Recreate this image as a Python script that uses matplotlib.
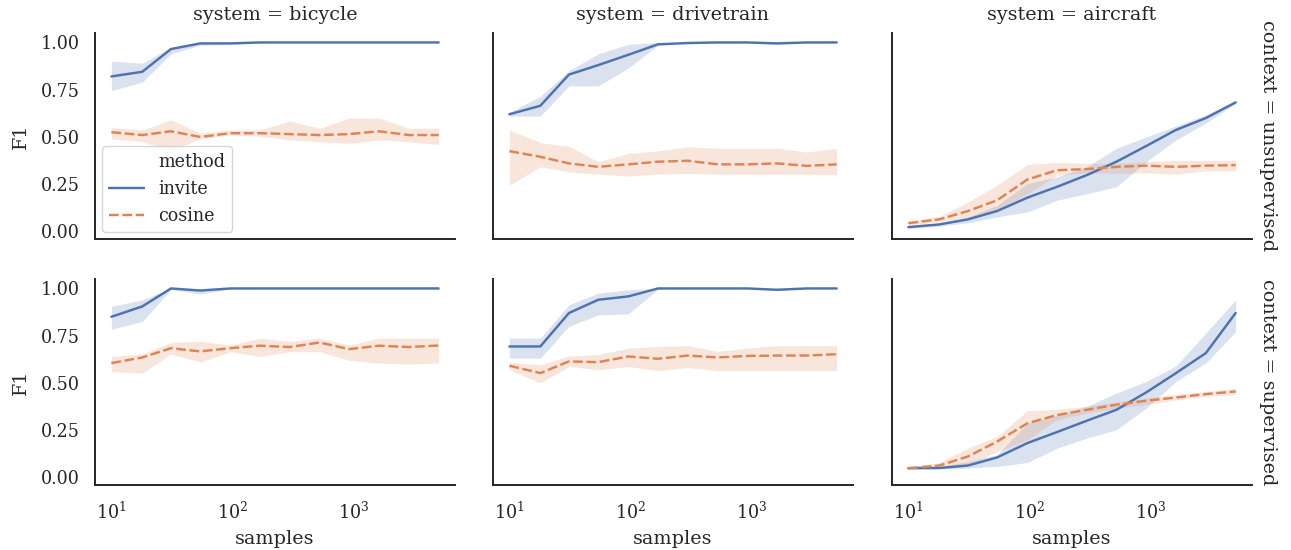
import numpy as np
import matplotlib
matplotlib.use("Agg")
import matplotlib.pyplot as plt
import matplotlib.ticker as mticker
from matplotlib.lines import Line2D
import seaborn as sns

sns.set_theme(style="white", context="notebook", font="serif", font_scale=1.15)
plt.rcParams['font.family'] = ['serif']
plt.rcParams['font.serif'] = ['DejaVu Serif']
plt.rcParams['xtick.major.pad'] = 6
plt.rcParams['ytick.major.pad'] = 5
plt.rcParams['axes.titlepad'] = 9
plt.rcParams['axes.linewidth'] = 1.4

# ---------------- data ----------------
samples = [10, 18, 31, 54, 96, 168, 296, 520, 915, 1610, 2840, 5000]
systems = ["bicycle", "drivetrain", "aircraft"]
contexts = ["unsupervised", "supervised"]
methods = ["invite", "cosine"]

# unsupervised / bicycle
uns_bic_inv = [0.82, 0.845, 0.965, 0.995, 0.995, 1.0, 1.0, 1.0, 1.0, 1.0, 1.0, 1.0]
uns_bic_inv_lo = [0.745, 0.79, 0.94, 0.985, 0.99, 1.0, 1.0, 1.0, 1.0, 1.0, 1.0, 1.0]
uns_bic_inv_hi = [0.90, 0.89, 0.975, 1.0, 1.0, 1.0, 1.0, 1.0, 1.0, 1.0, 1.0, 1.0]
uns_bic_cos = [0.525, 0.51, 0.53, 0.50, 0.52, 0.52, 0.515, 0.51, 0.515, 0.53, 0.51, 0.51]
uns_bic_cos_lo = [0.49, 0.475, 0.43, 0.49, 0.51, 0.505, 0.484, 0.475, 0.466, 0.484, 0.475, 0.46]
uns_bic_cos_hi = [0.55, 0.537, 0.59, 0.52, 0.537, 0.537, 0.585, 0.546, 0.60, 0.60, 0.546, 0.546]

# unsupervised / drivetrain
uns_drv_inv = [0.62, 0.665, 0.83, 0.88, 0.935, 0.99, 0.997, 1.0, 1.0, 0.995, 1.0, 1.0]
uns_drv_inv_lo = [0.61, 0.61, 0.77, 0.77, 0.865, 0.985, 0.995, 0.998, 0.998, 0.99, 0.998, 1.0]
uns_drv_inv_hi = [0.63, 0.715, 0.85, 0.94, 0.99, 1.0, 1.0, 1.0, 1.0, 1.0, 1.0, 1.0]
uns_drv_cos = [0.425, 0.395, 0.36, 0.342, 0.355, 0.369, 0.374, 0.355, 0.355, 0.36, 0.347, 0.355]
uns_drv_cos_lo = [0.245, 0.342, 0.315, 0.303, 0.293, 0.303, 0.307, 0.303, 0.303, 0.303, 0.303, 0.30]
uns_drv_cos_hi = [0.537, 0.47, 0.45, 0.369, 0.413, 0.426, 0.448, 0.44, 0.44, 0.44, 0.42, 0.44]

# unsupervised / aircraft
uns_air_inv = [0.023, 0.037, 0.064, 0.108, 0.179, 0.236, 0.298, 0.369, 0.452, 0.537, 0.60, 0.683]
uns_air_inv_lo = [0.015, 0.028, 0.046, 0.077, 0.103, 0.165, 0.20, 0.236, 0.369, 0.484, 0.573, 0.678]
uns_air_inv_hi = [0.031, 0.045, 0.077, 0.138, 0.254, 0.289, 0.342, 0.44, 0.50, 0.558, 0.617, 0.688]
uns_air_cos = [0.044, 0.064, 0.108, 0.165, 0.275, 0.324, 0.33, 0.342, 0.348, 0.342, 0.348, 0.351]
uns_air_cos_lo = [0.035, 0.05, 0.076, 0.112, 0.20, 0.298, 0.31, 0.307, 0.31, 0.303, 0.32, 0.32]
uns_air_cos_hi = [0.053, 0.08, 0.156, 0.245, 0.355, 0.365, 0.36, 0.36, 0.37, 0.376, 0.376, 0.376]

# supervised / bicycle
sup_bic_inv = [0.85, 0.905, 1.0, 0.989, 1.0, 1.0, 1.0, 1.0, 1.0, 1.0, 1.0, 1.0]
sup_bic_inv_lo = [0.785, 0.825, 0.995, 0.97, 0.998, 1.0, 1.0, 1.0, 1.0, 1.0, 1.0, 1.0]
sup_bic_inv_hi = [0.905, 0.94, 1.0, 0.997, 1.0, 1.0, 1.0, 1.0, 1.0, 1.0, 1.0, 1.0]
sup_bic_cos = [0.605, 0.635, 0.684, 0.667, 0.684, 0.697, 0.69, 0.714, 0.679, 0.697, 0.69, 0.698]
sup_bic_cos_lo = [0.56, 0.552, 0.654, 0.61, 0.665, 0.64, 0.665, 0.665, 0.62, 0.605, 0.60, 0.605]
sup_bic_cos_hi = [0.64, 0.654, 0.714, 0.72, 0.70, 0.737, 0.72, 0.737, 0.70, 0.737, 0.737, 0.737]

# supervised / drivetrain
sup_drv_inv = [0.693, 0.693, 0.87, 0.94, 0.958, 1.0, 1.0, 1.0, 1.0, 0.993, 1.0, 1.0]
sup_drv_inv_lo = [0.631, 0.631, 0.80, 0.86, 0.866, 0.995, 1.0, 1.0, 1.0, 0.99, 1.0, 1.0]
sup_drv_inv_hi = [0.737, 0.737, 0.914, 0.975, 0.993, 1.0, 1.0, 1.0, 1.0, 0.997, 1.0, 1.0]
sup_drv_cos = [0.591, 0.552, 0.614, 0.61, 0.64, 0.628, 0.645, 0.635, 0.643, 0.645, 0.645, 0.652]
sup_drv_cos_lo = [0.57, 0.50, 0.587, 0.57, 0.587, 0.565, 0.582, 0.565, 0.565, 0.565, 0.565, 0.565]
sup_drv_cos_hi = [0.61, 0.596, 0.643, 0.65, 0.684, 0.693, 0.697, 0.667, 0.684, 0.697, 0.697, 0.697]

# supervised / aircraft
sup_air_inv = [0.049, 0.05, 0.063, 0.106, 0.182, 0.24, 0.30, 0.358, 0.45, 0.552, 0.658, 0.87]
sup_air_inv_lo = [0.046, 0.045, 0.05, 0.058, 0.079, 0.155, 0.208, 0.252, 0.367, 0.508, 0.605, 0.772]
sup_air_inv_hi = [0.052, 0.058, 0.085, 0.12, 0.287, 0.33, 0.376, 0.446, 0.508, 0.59, 0.764, 0.94]
sup_air_cos = [0.049, 0.063, 0.111, 0.19, 0.287, 0.33, 0.358, 0.385, 0.406, 0.423, 0.441, 0.455]
sup_air_cos_lo = [0.046, 0.05, 0.067, 0.137, 0.20, 0.305, 0.34, 0.367, 0.385, 0.41, 0.43, 0.44]
sup_air_cos_hi = [0.052, 0.08, 0.155, 0.217, 0.353, 0.36, 0.376, 0.40, 0.42, 0.44, 0.455, 0.47]

panels = {
    ("unsupervised", "bicycle"): [(uns_bic_inv, uns_bic_inv_lo, uns_bic_inv_hi), (uns_bic_cos, uns_bic_cos_lo, uns_bic_cos_hi)],
    ("unsupervised", "drivetrain"): [(uns_drv_inv, uns_drv_inv_lo, uns_drv_inv_hi), (uns_drv_cos, uns_drv_cos_lo, uns_drv_cos_hi)],
    ("unsupervised", "aircraft"): [(uns_air_inv, uns_air_inv_lo, uns_air_inv_hi), (uns_air_cos, uns_air_cos_lo, uns_air_cos_hi)],
    ("supervised", "bicycle"): [(sup_bic_inv, sup_bic_inv_lo, sup_bic_inv_hi), (sup_bic_cos, sup_bic_cos_lo, sup_bic_cos_hi)],
    ("supervised", "drivetrain"): [(sup_drv_inv, sup_drv_inv_lo, sup_drv_inv_hi), (sup_drv_cos, sup_drv_cos_lo, sup_drv_cos_hi)],
    ("supervised", "aircraft"): [(sup_air_inv, sup_air_inv_lo, sup_air_inv_hi), (sup_air_cos, sup_air_cos_lo, sup_air_cos_hi)],
}

colors = ["#4C72B0", "#DD8452"]
dashes = [None, (4, 1.5)]
LW = 1.75

# ---------------- figure ----------------
W, H = 1291, 550
fig = plt.figure(figsize=(W / 100, H / 100), dpi=100)
col_left = [95, 493, 892]
ax_w = 360
row_top = [33, 279]
ax_h = 206

axes = {}
ref = None
for r, ctx in enumerate(contexts):
    for c, sysname in enumerate(systems):
        rect = [col_left[c] / W, 1 - (row_top[r] + ax_h) / H, ax_w / W, ax_h / H]
        ax = fig.add_axes(rect, sharex=ref, sharey=ref)
        if ref is None:
            ref = ax
        axes[(r, c)] = ax
        for m, (mean, lo, hi) in enumerate(panels[(ctx, sysname)]):
            ax.fill_between(samples, lo, hi, color=colors[m], alpha=0.2, linewidth=0)
            line, = ax.plot(samples, mean, color=colors[m], lw=LW, label=methods[m])
            if dashes[m] is not None:
                line.set_dashes(dashes[m])
        ax.set_xscale("log")
        for s in ["top", "right"]:
            ax.spines[s].set_visible(False)
        if r == 0:
            ax.set_title(f"system = {sysname}")
        if c == 2:
            ax.annotate(f"context = {ctx}", xy=(1.02, 0.5), xycoords="axes fraction",
                        rotation=270, ha="left", va="center",
                        fontsize=plt.rcParams['axes.labelsize'])
        if c == 0:
            ax.set_ylabel("F1", labelpad=8)
        else:
            ax.tick_params(labelleft=False)
        if r == 1:
            ax.set_xlabel("samples", labelpad=5)
        else:
            ax.tick_params(labelbottom=False)

ref.set_ylim(-0.04, 1.05)
ref.set_yticks([0.0, 0.25, 0.5, 0.75, 1.0])
ref.set_xlim(10 ** (1 - 0.135), 10 ** (np.log10(5000) + 0.135))
ref.set_xticks([10, 100, 1000])
ref.xaxis.set_minor_locator(mticker.NullLocator())

# legend in first panel (seaborn-style, title as entry)
ax0 = axes[(0, 0)]
h_title = Line2D([], [], color="none")
h_inv = Line2D([], [], color=colors[0], lw=LW)
h_cos = Line2D([], [], color=colors[1], lw=LW, dashes=dashes[1])
ax0.legend([h_title, h_inv, h_cos], ["method", "invite", "cosine"], loc="lower left",
           borderaxespad=0.4)

fig.savefig("out.png", dpi=100)
